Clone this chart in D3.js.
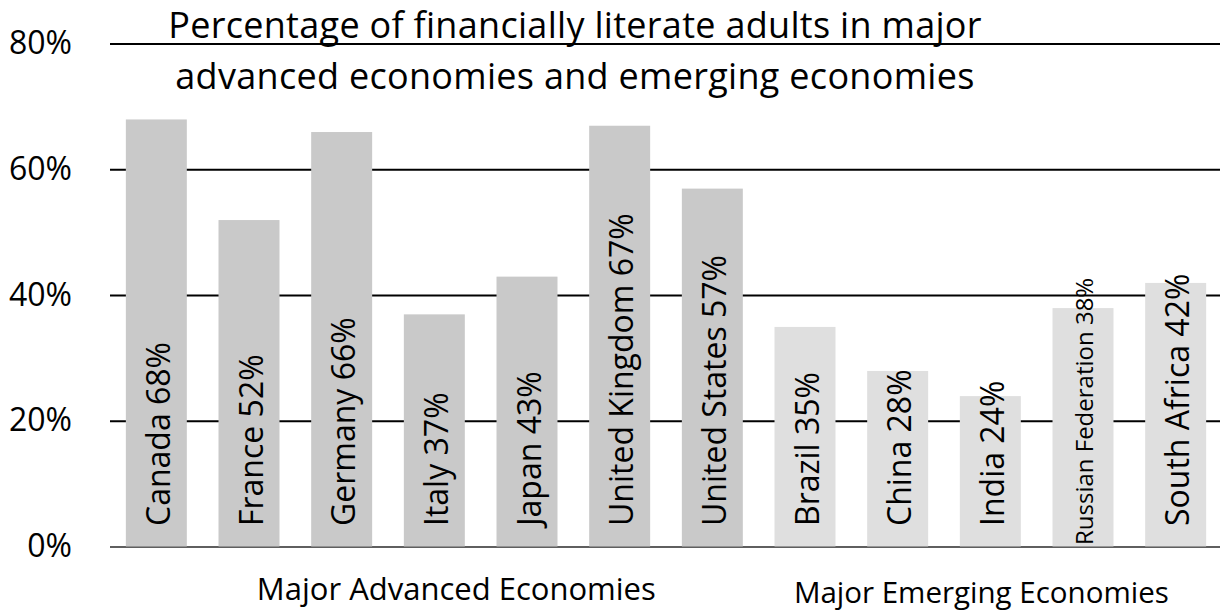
<!DOCTYPE html>
<html>
<head>
<meta charset="utf-8">
<script src="https://cdn.jsdelivr.net/npm/d3@7/dist/d3.min.js"></script>
<style>
  html, body { margin: 0; padding: 0; background: #fff; }
  svg { display: block; font-family: "Open Sans", "Noto Sans", sans-serif; }
</style>
</head>
<body>
<svg id="chart" width="1220" height="612"></svg>
<script>
// Financial literacy rates by country (percent of adults)
const countries = ["Canada", "France", "Germany", "Italy", "Japan", "United Kingdom", "United States",
                   "Brazil", "China", "India", "Russian Federation", "South Africa"];
const literacy  = [68, 52, 66, 37, 43, 67, 57, 35, 28, 24, 38, 42];
const groups    = ["Major Advanced Economies", "Major Advanced Economies", "Major Advanced Economies",
                   "Major Advanced Economies", "Major Advanced Economies", "Major Advanced Economies",
                   "Major Advanced Economies", "Major Emerging Economies", "Major Emerging Economies",
                   "Major Emerging Economies", "Major Emerging Economies", "Major Emerging Economies"];
const groupNames = ["Major Advanced Economies", "Major Emerging Economies"];
const yTicks    = [0, 20, 40, 60, 80];
const titleLines = ["Percentage of financially literate adults in major",
                    "advanced economies and emerging economies"];

const data = countries.map((c, i) => ({ country: c, value: literacy[i], group: groups[i] }));

const svg = d3.select("#chart");
const plotLeft = 110, plotRight = 1222, plotTop = 44, plotBottom = 547;

const x = d3.scaleBand().domain(countries).range([plotLeft, plotRight]).paddingInner(0.342).paddingOuter(0.171);
const y = d3.scaleLinear().domain([0, 80]).range([plotBottom, plotTop]);
const fill = d3.scaleOrdinal().domain(groupNames).range(["#c9c9c9", "#dfdfdf"]);

// horizontal gridlines, behind the bars
svg.append("g")
  .selectAll("line")
  .data(yTicks)
  .join("line")
  .attr("x1", plotLeft).attr("x2", 1220)
  .attr("y1", d => y(d)).attr("y2", d => y(d))
  .attr("stroke", "#000").attr("stroke-width", 2);

// y axis tick labels
const yAxis = d3.axisLeft(y).tickValues(yTicks).tickFormat(d => d + "%").tickSize(0).tickPadding(0);
const yg = svg.append("g").attr("transform", "translate(72,0)").call(yAxis);
yg.select(".domain").remove();
yg.selectAll("text").attr("font-size", 32).attr("fill", "#000")
  .attr("font-family", "'Open Sans', sans-serif").attr("dy", "0.3em");

// bars
svg.append("g")
  .selectAll("rect")
  .data(data)
  .join("rect")
  .attr("x", d => x(d.country))
  .attr("width", x.bandwidth())
  .attr("y", d => y(d.value))
  .attr("height", d => y(0) - y(d.value))
  .attr("fill", d => fill(d.group));

// thin baseline over the bars
svg.append("line")
  .attr("x1", plotLeft).attr("x2", 1220)
  .attr("y1", y(0)).attr("y2", y(0))
  .attr("stroke", "#7f7f7f").attr("stroke-width", 1.5);

// rotated value labels inside each bar
svg.append("g")
  .selectAll("text")
  .data(data)
  .join("text")
  .attr("transform", d => {
    const cx = x(d.country) + x.bandwidth() / 2;
    const by = d.country === "Russian Federation" ? 545 : 526;
    return `translate(${cx},${by}) rotate(-90)`;
  })
  .attr("dy", d => d.country === "Russian Federation" ? "0.4em" : "0.43em")
  .attr("font-size", d => d.country === "Russian Federation" ? 24 : 32)
  .attr("fill", "#000")
  .text(d => `${d.country} ${d.value}%`);

// group labels under the axis
const groupCenters = groupNames.map(g => {
  const members = data.filter(d => d.group === g);
  const x0 = x(members[0].country);
  const x1 = x(members[members.length - 1].country) + x.bandwidth();
  return { name: g, cx: (x0 + x1) / 2 };
});
svg.append("g")
  .selectAll("text")
  .data(groupCenters)
  .join("text")
  .attr("x", (d, i) => i === 0 ? d.cx + 22 : d.cx - 9)
  .attr("y", (d, i) => i === 0 ? 600 : 603)
  .attr("text-anchor", "middle")
  .attr("font-size", (d, i) => i === 0 ? 31 : 29.5)
  .attr("fill", "#000")
  .text(d => d.name);

// title
svg.append("g")
  .selectAll("text")
  .data(titleLines)
  .join("text")
  .attr("x", 575)
  .attr("y", (d, i) => 38 + i * 51)
  .attr("text-anchor", "middle")
  .attr("font-size", 36)
  .attr("letter-spacing", 0.3)
  .attr("fill", "#000")
  .text(d => d);
</script>
</body>
</html>
